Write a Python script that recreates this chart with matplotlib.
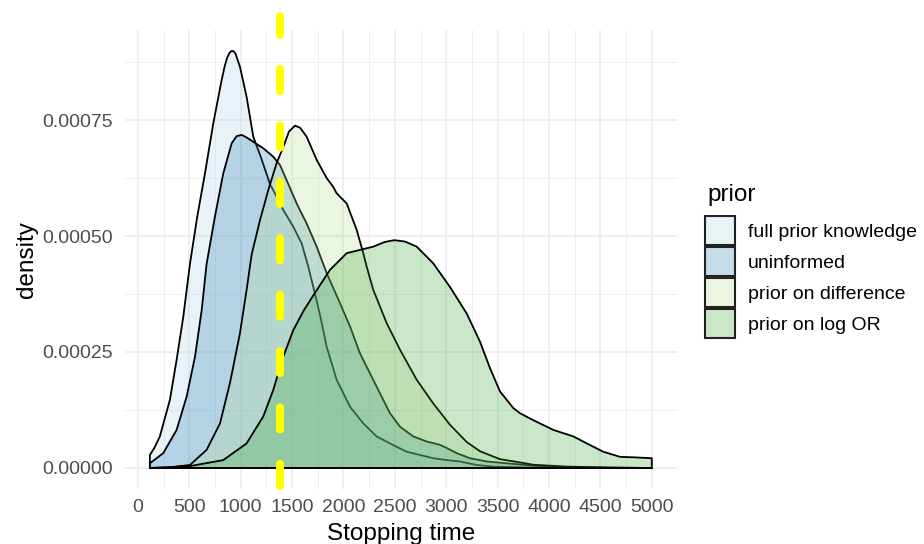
import numpy as np
import matplotlib
matplotlib.use("Agg")
import matplotlib.pyplot as plt
from matplotlib.patches import Patch
from matplotlib.ticker import MultipleLocator, FixedLocator

plt.rcParams['font.family'] = ['Liberation Sans', 'DejaVu Sans']

# density curves (x: stopping time, y: density)
fpk_x = [117, 160, 214, 312, 377, 442, 507, 578, 653, 734, 815, 845, 870, 893, 912, 932, 950, 993, 1058,
         1123, 1200, 1285, 1350, 1415, 1512, 1594, 1658, 1707, 1772, 1837, 1934, 2064, 2194, 2323, 2453,
         2615, 2745, 2874, 3005, 3134, 3296, 3458, 3800, 4300, 5000]
fpk_y = [2.8e-5, 4.3e-5, 6.8e-5, 1.47e-4, 2.33e-4, 3.26e-4, 4.40e-4, 5.42e-4, 6.35e-4, 7.43e-4, 8.36e-4,
         8.66e-4, 8.85e-4, 8.95e-4, 8.99e-4, 8.98e-4, 8.93e-4, 8.65e-4, 8.00e-4, 7.14e-4, 6.68e-4, 6.12e-4,
         5.85e-4, 5.56e-4, 5.20e-4, 4.84e-4, 4.34e-4, 3.90e-4, 3.30e-4, 2.61e-4, 1.90e-4, 1.32e-4, 9.6e-5,
         6.8e-5, 5.3e-5, 3.5e-5, 2.8e-5, 2.1e-5, 1.7e-5, 1.4e-5, 6.5e-6, 3e-6, 1e-6, 3e-7, 0]

uni_x = [117, 247, 377, 475, 556, 621, 669, 750, 831, 913, 960, 1010, 1060, 1123, 1220, 1317, 1383, 1448,
         1545, 1642, 1740, 1837, 1967, 2064, 2161, 2258, 2355, 2453, 2550, 2680, 2810, 2939, 3005, 3102,
         3231, 3394, 3589, 3900, 4300, 5000]
uni_y = [1.0e-5, 3.2e-5, 8.2e-5, 1.54e-4, 2.40e-4, 3.40e-4, 4.40e-4, 5.42e-4, 6.35e-4, 7.00e-4, 7.15e-4,
         7.18e-4, 7.12e-4, 7.03e-4, 6.89e-4, 6.71e-4, 6.53e-4, 6.20e-4, 5.70e-4, 5.27e-4, 4.77e-4, 4.20e-4,
         3.55e-4, 3.05e-4, 2.47e-4, 2.04e-4, 1.61e-4, 1.18e-4, 8.9e-5, 6.8e-5, 5.7e-5, 5.0e-5, 4.3e-5,
         3.2e-5, 2.1e-5, 1.4e-5, 1.0e-5, 4e-6, 1e-6, 0]

pod_x = [117, 300, 507, 669, 799, 896, 993, 1058, 1107, 1188, 1269, 1350, 1415, 1470, 1529, 1580, 1642,
         1740, 1837, 1900, 1934, 2032, 2129, 2193, 2226, 2290, 2421, 2550, 2713, 2874, 3037, 3199, 3329,
         3523, 3718, 3847, 4172, 4600, 5000]
pod_y = [0, 1e-6, 6.5e-6, 3.9e-5, 9.6e-5, 1.83e-4, 2.90e-4, 3.84e-4, 4.60e-4, 5.34e-4, 5.99e-4, 6.57e-4,
         6.92e-4, 7.25e-4, 7.38e-4, 7.33e-4, 7.14e-4, 6.64e-4, 6.25e-4, 6.06e-4, 5.92e-4, 5.70e-4, 5.13e-4,
         4.63e-4, 4.34e-4, 3.84e-4, 3.12e-4, 2.55e-4, 1.90e-4, 1.39e-4, 9.3e-5, 5.6e-5, 3.6e-5, 1.9e-5,
         1.2e-5, 7e-6, 3e-6, 1e-6, 0]

plor_x = [117, 507, 831, 1058, 1220, 1317, 1415, 1512, 1610, 1707, 1869, 2032, 2161, 2290, 2400, 2495,
          2600, 2713, 2874, 3037, 3199, 3329, 3426, 3523, 3653, 3718, 3847, 3978, 4042, 4237, 4367, 4528,
          4691, 4821, 5000]
plor_y = [0, 4e-6, 1.7e-5, 5.3e-5, 1.11e-4, 1.68e-4, 2.40e-4, 2.97e-4, 3.38e-4, 3.72e-4, 4.27e-4, 4.63e-4,
          4.70e-4, 4.77e-4, 4.87e-4, 4.91e-4, 4.88e-4, 4.77e-4, 4.41e-4, 3.90e-4, 3.33e-4, 2.72e-4,
          2.15e-4, 1.65e-4, 1.29e-4, 1.18e-4, 1.03e-4, 8.9e-5, 8.2e-5, 6.8e-5, 5.3e-5, 3.5e-5, 2.4e-5,
          2.3e-5, 2.1e-5]

labels = ["full prior knowledge", "uninformed", "prior on difference", "prior on log OR"]
colors = ["#A6CEE3", "#1F78B4", "#B2DF8A", "#33A02C"]
cutoff = 1380

x_ticks = [0, 500, 1000, 1500, 2000, 2500, 3000, 3500, 4000, 4500, 5000]
y_ticks = [0.0, 0.00025, 0.0005, 0.00075]
y_ticklabels = ["0.00000", "0.00025", "0.00050", "0.00075"]

fig = plt.figure(figsize=(9.24, 5.44), dpi=100)
ax = fig.add_axes([125 / 924, 55 / 544, 552 / 924, 459 / 544])

series = [(fpk_x, fpk_y), (uni_x, uni_y), (pod_x, pod_y), (plor_x, plor_y)]
for (sx, sy), c in zip(series, colors):
    px = np.r_[sx[0], sx, sx[-1]]
    py = np.r_[0, sy, 0]
    fc = matplotlib.colors.to_rgba(c, 0.25)
    ax.fill(px, py, facecolor=fc, edgecolor="black", linewidth=1.3, joinstyle="round", zorder=2)

ax.axvline(cutoff, ymin=3 / 459, ymax=473 / 459, color="#ffff00", linewidth=5.8,
           dashes=(2.75, 4.25), dash_capstyle="round", clip_on=False, zorder=5)

ax.set_xlim(-125, 5245)
ax.set_ylim(-4.53e-5, 9.44e-4)
ax.xaxis.set_major_locator(FixedLocator(x_ticks))
ax.xaxis.set_minor_locator(MultipleLocator(250))
ax.set_xticks(x_ticks)
ax.set_xticklabels([str(v) for v in x_ticks])
ax.set_yticks(y_ticks)
ax.set_yticklabels(y_ticklabels)
ax.yaxis.set_minor_locator(MultipleLocator(0.000125))
ax.grid(which="major", color="#ebebeb", linewidth=1.1, zorder=0)
ax.grid(which="minor", color="#ebebeb", linewidth=0.55, zorder=0)
ax.set_axisbelow(True)
for s in ax.spines.values():
    s.set_visible(False)
ax.tick_params(which="both", length=0, labelsize=14, labelcolor="#4d4d4d")
ax.tick_params(axis="x", pad=7)
ax.tick_params(axis="y", pad=9)
ax.set_xlabel("Stopping time", fontsize=17.5, labelpad=5)
ax.set_ylabel("density", fontsize=17.5, labelpad=3)

fig.text(707 / 924, 1 - 201 / 544, "prior", fontsize=17.5, ha="left", va="baseline")
handles = [Patch(facecolor=matplotlib.colors.to_rgba(c, 0.25), edgecolor="#222222", linewidth=1.5) for c in colors]
leg = ax.legend(handles, labels, loc="upper left",
                bbox_to_anchor=(705 / 924, 1 - 216 / 544), bbox_transform=fig.transFigure,
                frameon=False, fontsize=14,
                handlelength=1.55, handleheight=1.92, handletextpad=0.65, labelspacing=0.1,
                borderpad=0, borderaxespad=0)

fig.savefig("out.png", dpi=100)
